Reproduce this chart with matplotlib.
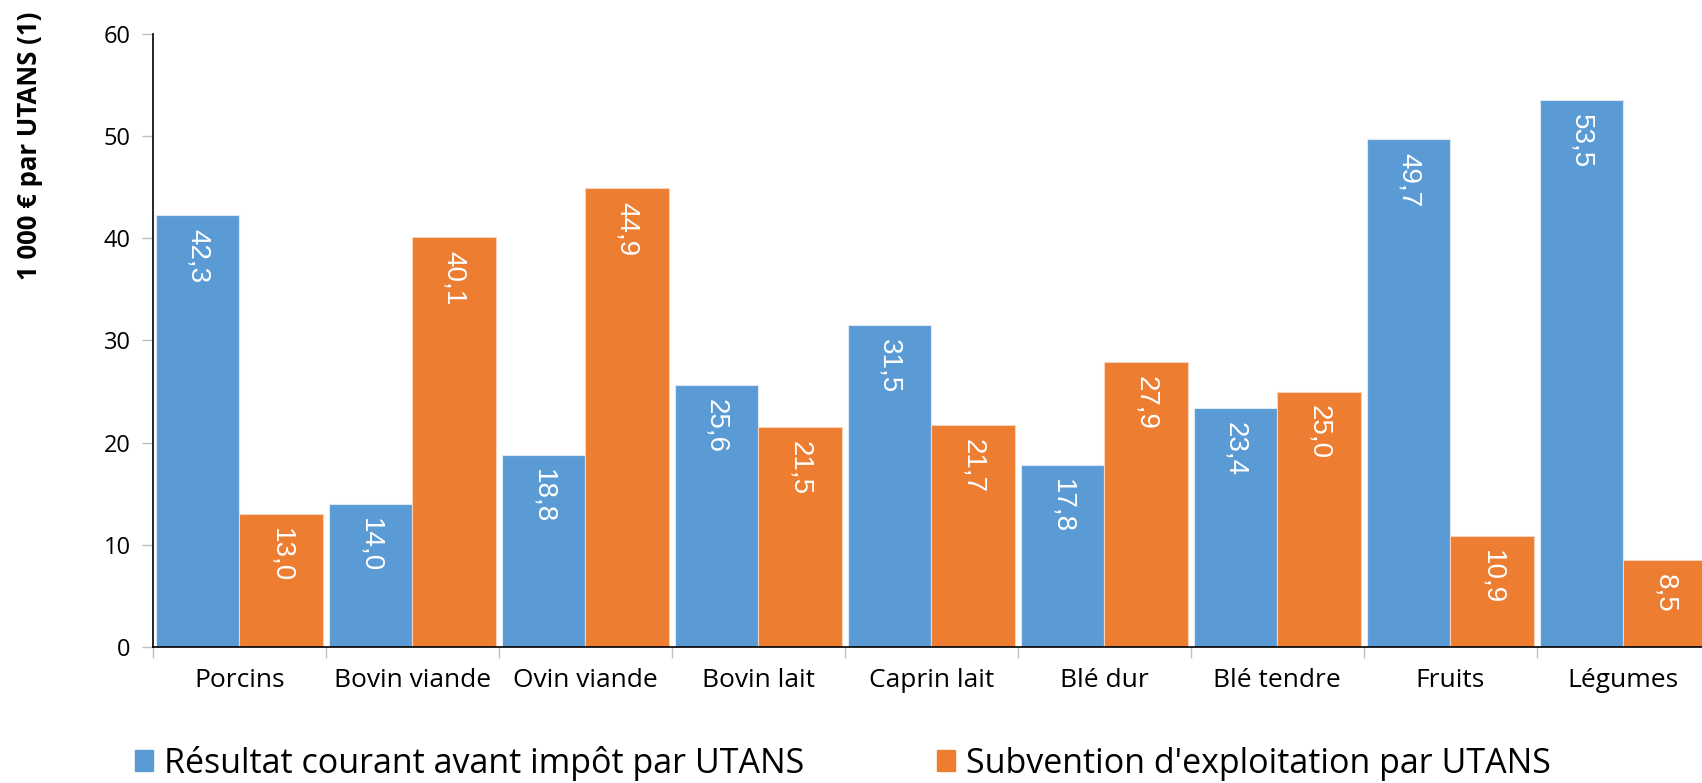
import matplotlib
matplotlib.use("Agg")
import matplotlib.pyplot as plt
import matplotlib.patches as mpatches
import numpy as np

# data
categories = ["Porcins", "Bovin viande", "Ovin viande", "Bovin lait", "Caprin lait",
              "Blé dur", "Blé tendre", "Fruits", "Légumes"]
resultat = [42.3, 14.0, 18.8, 25.6, 31.5, 17.8, 23.4, 49.7, 53.5]
subvention = [13.0, 40.1, 44.9, 21.5, 21.7, 27.9, 25.0, 10.9, 8.5]
serie_names = ["Résultat courant avant impôt par UTANS",
               "Subvention d'exploitation par UTANS"]

blue = "#5B9BD5"
orange = "#ED7D31"
font = "Open Sans"

fig = plt.figure(figsize=(17.02, 7.83), dpi=100)
ax = fig.add_axes([0.0897, 0.1737, 0.9148, 0.7829])

x = np.arange(len(categories))
w = 0.483
b1 = ax.bar(x - w / 2, resultat, w, color=blue, edgecolor="#dbe8f5", linewidth=0.8)
b2 = ax.bar(x + w / 2, subvention, w, color=orange, edgecolor="#f7d3bb", linewidth=0.8)

#value labels, rotated, inside the top of each bar
for bars, vals in [(b1, resultat), (b2, subvention)]:
    for rect, v in zip(bars, vals):
        ax.annotate(("%.1f" % v).replace(".", ","),
                    (rect.get_x() + rect.get_width() / 2, v),
                    xytext=(0, -10), textcoords="offset points",
                    rotation=-90, ha="center", va="top", color="white",
                    fontsize=20, family="Liberation Sans")

ax.set_xlim(-0.5, len(categories) - 0.5)
ax.set_ylim(0, 60)
ax.set_yticks(range(0, 61, 10))
ax.set_xticks(x)
ax.set_xticklabels(categories, family=font, fontsize=19)
ax.set_xticks(np.arange(-0.5, len(categories), 1), minor=True)
ax.tick_params(axis="x", which="major", length=0, pad=15)
ax.tick_params(axis="x", which="minor", length=8, color="#bfbfbf", width=1)
ax.tick_params(axis="y", length=8, color="#bfbfbf", width=1, pad=8)
for lab in ax.get_yticklabels():
    lab.set_family(font)
    lab.set_fontsize(17)

for s in ["top", "right"]:
    ax.spines[s].set_visible(False)
ax.spines["left"].set_color("black")
ax.spines["bottom"].set_color("black")
ax.spines["left"].set_linewidth(1.2)
ax.spines["bottom"].set_linewidth(1.2)

fig.text(0.0176, 1 - 146 / 783, "1 000 € par UTANS (1)", rotation=90, ha="center", va="center",
         family=font, fontweight="bold", fontsize=18.5)

handles = [mpatches.Patch(color=blue), mpatches.Patch(color=orange)]
fig.legend(handles, serie_names, loc="center left", bbox_to_anchor=(135 / 1702, 0.0255),
           ncol=2, frameon=False, borderpad=0, borderaxespad=0,
           handlelength=0.53, handleheight=0.53, handletextpad=0.32, columnspacing=3.9,
           prop={"family": font, "size": 24.5})

fig.savefig("out.png", dpi=100)
